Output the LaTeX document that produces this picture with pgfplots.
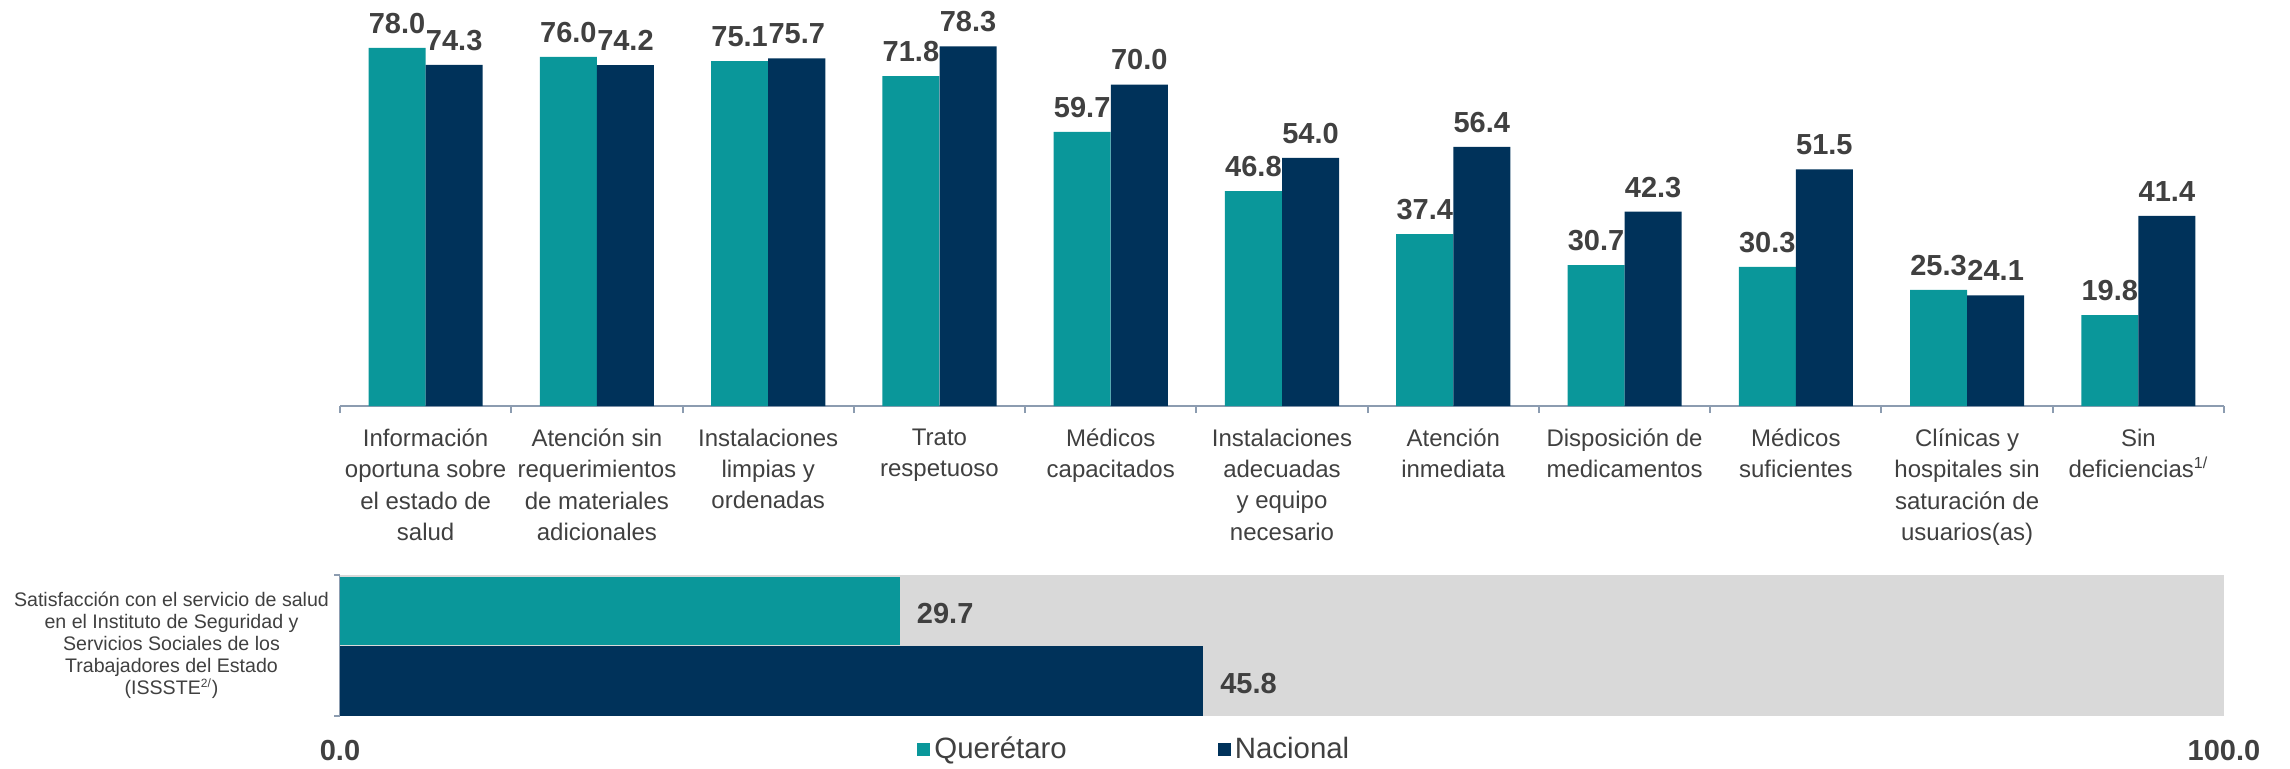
\documentclass[border=0pt]{standalone}
\usepackage{fontspec}
\setmainfont{Liberation Sans}
\usepackage{pgfplots}
\pgfplotsset{compat=1.18}
\definecolor{qro}{HTML}{0A979A}
\definecolor{nac}{HTML}{00325A}
\definecolor{txt}{HTML}{404040}
\definecolor{axisgray}{HTML}{8C9CB0}
\definecolor{bggray}{HTML}{D9D9D9}
\begin{document}
\begin{tikzpicture}
\useasboundingbox (0,0) rectangle (1145pt,384pt);
\begin{axis}[
  at={(170pt,181pt)}, anchor=south west,
  scale only axis, width=942pt, height=203pt,
  xmin=-0.5, xmax=10.5, ymin=0, ymax=88.4,
  clip=false,
  axis y line=none, axis x line*=bottom,
  x axis line style={draw=axisgray, line width=1pt},
  major tick length=0pt,
  xtick={0,...,10},
  xticklabels={{Información\\oportuna sobre\\el estado de\\salud},
    {Atención sin\\requerimientos\\de materiales\\adicionales},
    {Instalaciones\\limpias y\\ordenadas},
    {Trato\\respetuoso},
    {Médicos\\capacitados},
    {Instalaciones\\adecuadas\\y equipo\\necesario},
    {Atención\\inmediata},
    {Disposición de\\medicamentos},
    {Médicos\\suficientes},
    {Clínicas y\\hospitales sin\\saturación de\\usuarios(as)},
    {Sin\\deficiencias\textsuperscript{1/}}},
  xticklabel style={align=center, font=\fontsize{12}{15.6}\selectfont, text=txt, yshift=-8pt},
  extra x ticks={-0.5,0.5,1.5,2.5,3.5,4.5,5.5,6.5,7.5,8.5,9.5,10.5},
  extra x tick labels={,,,,,,,,,,,},
  extra x tick style={major tick length=3.5pt, tick align=outside, major tick style={draw=axisgray, line width=1pt}},
  ybar, bar width=0.333,
  nodes near coords={\pgfmathprintnumber[fixed,fixed zerofill,precision=1,assume math mode=true]{\pgfplotspointmeta}},
  nodes near coords style={font=\fontsize{14.5}{17}\selectfont\bfseries, text=txt, inner sep=0pt, yshift=7pt, anchor=south},
]
\addplot[fill=qro, draw=none, bar shift=-0.1667] coordinates {(0,78.0) (1,76.0) (2,75.1) (3,71.8) (4,59.7) (5,46.8) (6,37.4) (7,30.7) (8,30.3) (9,25.3) (10,19.8)};
\addplot[fill=nac, draw=none, bar shift=0.1667] coordinates {(0,74.3) (1,74.2) (2,75.7) (3,78.3) (4,70.0) (5,54.0) (6,56.4) (7,42.3) (8,51.5) (9,24.1) (10,41.4)};
\end{axis}
\begin{axis}[
  at={(170pt,26pt)}, anchor=south west,
  scale only axis, width=942pt, height=70.5pt,
  xmin=0, xmax=100, ymin=0, ymax=2,
  clip=false,
  axis lines*=left, separate axis lines,
  x axis line style={draw=none},
  y axis line style={draw=axisgray, line width=1pt},
  major tick length=0pt,
  xtick={0,100}, xticklabels={0.0,100.0},
  xticklabel style={font=\fontsize{14.5}{17}\selectfont\bfseries, text=txt, yshift=-8.5pt},
  ytick={1},
  yticklabels={{Satisfacción con el servicio de salud\\en el Instituto de Seguridad y\\Servicios Sociales de los\\Trabajadores del Estado\\(ISSSTE\textsuperscript{\fontsize{6}{7}\selectfont 2/})}},
  yticklabel style={align=center, font=\fontsize{9.8}{11}\selectfont, text=txt, xshift=-2pt},
  extra y ticks={0,2}, extra y tick labels={,},
  extra y tick style={major tick length=3pt, tick align=outside, major tick style={draw=axisgray, line width=0.8pt}},
  xbar,
  legend columns=2,
  legend style={at={(0.3063,-0.234)}, anchor=west, draw=none, fill=none, inner sep=0pt,
    font=\fontsize{14.7}{17}\selectfont, text=txt,
    /tikz/every even column/.append style={column sep=73.5pt}},
  legend image code/.code={\fill[#1] (0pt,-3.25pt) rectangle (6.5pt,3.25pt);},
]
\addplot[fill=bggray, draw=none, bar width=2, bar shift=0, forget plot] coordinates {(100,1)};
\addplot[fill=qro, draw=none, bar width=0.96, bar shift=0,
  nodes near coords={\pgfmathprintnumber[fixed,fixed zerofill,precision=1,assume math mode=true]{\pgfplotspointmeta}},
  point meta=x,
  nodes near coords style={font=\fontsize{14.5}{17}\selectfont\bfseries, text=txt, inner sep=0pt, xshift=8.5pt, yshift=-1.5pt, anchor=west}]
  coordinates {(29.7,1.49)};
\addplot[fill=nac, draw=none, bar width=1, bar shift=0,
  nodes near coords={\pgfmathprintnumber[fixed,fixed zerofill,precision=1,assume math mode=true]{\pgfplotspointmeta}},
  point meta=x,
  nodes near coords style={font=\fontsize{14.5}{17}\selectfont\bfseries, text=txt, inner sep=0pt, xshift=8.5pt, yshift=-1.5pt, anchor=west}]
  coordinates {(45.8,0.5)};
\legend{Querétaro, Nacional}
\end{axis}
\end{tikzpicture}
\end{document}
